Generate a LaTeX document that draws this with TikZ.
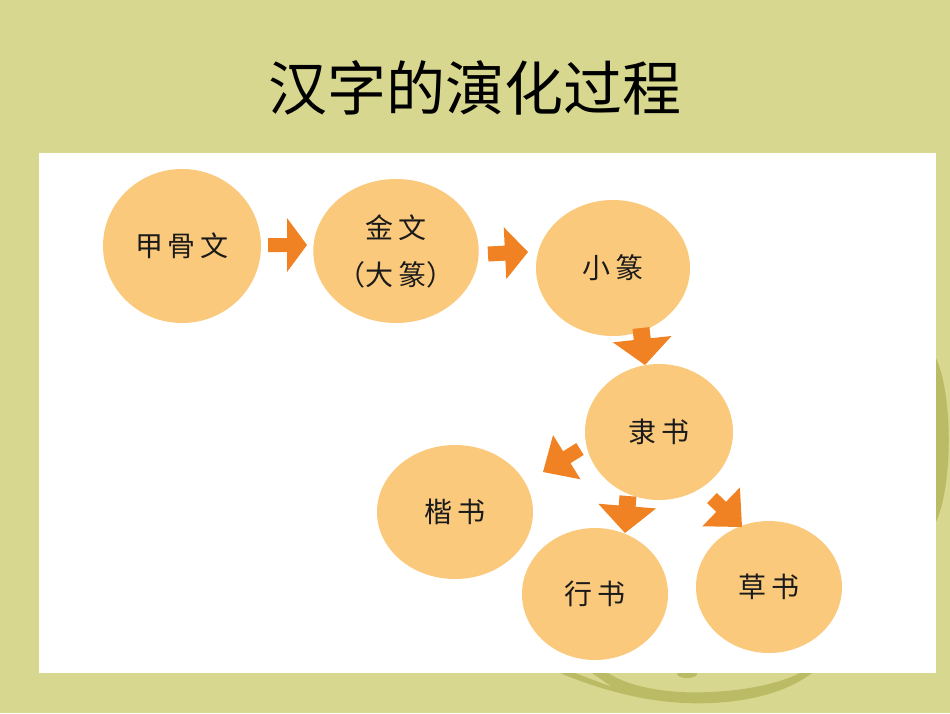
\documentclass[tikz,border=0pt]{standalone}
\usepackage{fontspec}
\newfontfamily\cjk{Noto Sans CJK SC}
\usetikzlibrary{shapes.geometric,calc}
\definecolor{bgcol}{HTML}{D8D78F}
\definecolor{ringcol}{HTML}{BCBB65}
\definecolor{circcol}{HTML}{FBC97B}
\definecolor{arrcol}{HTML}{F08224}
\definecolor{txtcol}{HTML}{1A1A1A}
\tikzset{
  stage/.style={ellipse, fill=circcol, inner sep=0pt, text=txtcol, align=center,
    font=\cjk\fontsize{28}{47}\selectfont},
  titletext/.style={text=black, font=\cjk\fontsize{59}{62}\selectfont, inner sep=0pt}
}
\newcommand\blockarr[5]{%
  \coordinate (#1-base) at ($(#2)!#5!(#1)$);
  \fill[arrcol] ($(#1)!#3!90:(#2)$) -- ($(#1-base)!#3!90:(#2)$) -- ($(#1-base)!#4!90:(#2)$)
    -- (#2) -- ($(#1-base)!#4!-90:(#2)$) -- ($(#1-base)!#3!-90:(#2)$) -- ($(#1)!#3!-90:(#2)$) -- cycle;}
\newcommand\gp{\hspace{5pt}}
\begin{document}
\begin{tikzpicture}[x=1pt,y=-1pt]
\useasboundingbox (0,0) rectangle (950,713);
\fill[bgcol] (0,0) rectangle (950,713);
% decorative rings
\begin{scope}
\clip (0,0) rectangle (950,713);
\fill[ringcol] (936,358) .. controls (953,395) and (953,485) .. (936,522) -- cycle;
\fill[ringcol] (560,673) .. controls (620,698) and (670,705) .. (712,703)
  .. controls (755,701) and (790,690) .. (812,673) -- (800,673)
  .. controls (770,688) and (720,694) .. (680,692)
  .. controls (650,690) and (625,684) .. (608,673) -- (592,673) -- (612,687) -- (575,673) -- cycle;
\fill[ringcol] (687,674) ellipse [x radius=10, y radius=4];
\end{scope}
\fill[white] (39,153) rectangle (936,673);
% title
\node[titletext] (title) at (475,88) {汉字的演化过程};
% stages
\node[stage, minimum width=158pt, minimum height=154pt] (jgw) at (182,246) {甲\gp 骨\gp 文};
\node[stage, minimum width=162pt, minimum height=144pt] (jw) at (396,251) {金\gp 文\\（大\gp 篆）};
\node[stage, minimum width=154pt, minimum height=136pt] (xz) at (613,268) {小\gp 篆};
\node[stage, minimum width=148pt, minimum height=136pt] (ls) at (659,432) {隶\gp 书};
\node[stage, minimum width=156pt, minimum height=134pt] (ks) at (455,512) {楷\gp 书};
\node[stage, minimum width=146pt, minimum height=132pt] (xs) at (595,594) {行\gp 书};
\node[stage, minimum width=146pt, minimum height=132pt] (cs) at (769,587) {草\gp 书};
% arrows
\coordinate (a1t) at (268,245); \coordinate (a1h) at (307,245);
\coordinate (a2t) at (488,254); \coordinate (a2h) at (528,252);
\coordinate (a3t) at (641,328); \coordinate (a3h) at (645,365);
\coordinate (a4t) at (580,449); \coordinate (a4h) at (543,472);
\coordinate (a5t) at (628,496); \coordinate (a5h) at (625,533);
\coordinate (a6t) at (712,498); \coordinate (a6h) at (742,527);
\blockarr{a1t}{a1h}{7pt}{27pt}{20pt}
\blockarr{a2t}{a2h}{7.5pt}{26pt}{23pt}
\blockarr{a3t}{a3h}{8.5pt}{29.5pt}{26pt}
\blockarr{a4t}{a4h}{7pt}{26pt}{28pt}
\blockarr{a5t}{a5h}{8.5pt}{29pt}{27pt}
\blockarr{a6t}{a6h}{7pt}{27pt}{29pt}
\end{tikzpicture}
\end{document}
